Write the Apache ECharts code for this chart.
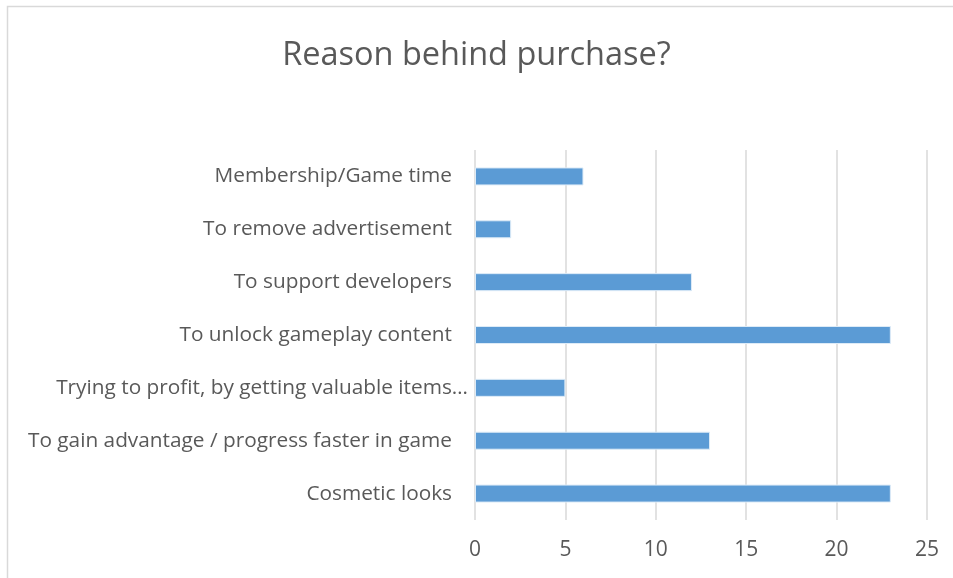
<!DOCTYPE html>
<html>
<head>
<meta charset="utf-8">
<script src="https://cdn.jsdelivr.net/npm/echarts@6/dist/echarts.min.js"></script>
<style>
  html, body { margin: 0; padding: 0; background: #fff; }
  #chart { width: 953px; height: 578px; }
</style>
</head>
<body>
<div id="chart"></div>
<script>
// Categories listed bottom-to-top (category axis on y starts at the bottom)
const categories = [
  'Cosmetic looks',
  'To gain advantage / progress faster in game',
  'Trying to profit, by getting valuable items…',
  'To unlock gameplay content',
  'To support developers',
  'To remove advertisement',
  'Membership/Game time'
];
const counts = [23, 13, 5, 23, 12, 2, 6];
const xTicks = [0, 5, 10, 15, 20, 25];

const FONT = '"Open Sans", sans-serif';
const TEXT = '#595959';
const GRID = '#D9D9D9';

const chart = echarts.init(document.getElementById('chart'), null, { renderer: 'canvas' });
chart.setOption({
  backgroundColor: '#ffffff',
  animation: false,
  title: {
    text: 'Reason behind purchase?',
    left: 'center',
    top: 34,
    textStyle: { fontFamily: FONT, fontSize: 32.5, fontWeight: 'normal', color: TEXT }
  },
  graphic: [{
    type: 'rect',
    shape: { x: 7.5, y: 6.5, width: 1000, height: 1000 },
    style: { fill: 'none', stroke: GRID, lineWidth: 1.5 },
    silent: true
  }],
  grid: { left: 475, right: 26, top: 150, bottom: 58, containLabel: false },
  xAxis: {
    type: 'value',
    min: xTicks[0],
    max: xTicks[xTicks.length - 1],
    interval: xTicks[1] - xTicks[0],
    axisLine: { show: false },
    axisTick: { show: false },
    axisLabel: { fontFamily: FONT, fontSize: 21, color: TEXT, margin: 20 },
    splitLine: { show: true, lineStyle: { color: GRID, width: 1.5 } }
  },
  yAxis: {
    type: 'category',
    data: categories,
    axisLine: { show: false },
    axisTick: { show: false },
    axisLabel: {
      margin: 7,
      formatter: function (v) {
        return v.endsWith('…') ? '{t|' + v + '}' : '{n|' + v + '}';
      },
      rich: {
        n: { fontFamily: FONT, fontSize: 20.8, color: TEXT, padding: [0, 16, 0, 0] },
        t: { fontFamily: FONT, fontSize: 20.8, color: TEXT }
      }
    }
  },
  series: [{
    type: 'bar',
    data: counts,
    barWidth: 18,
    itemStyle: { color: '#5B9BD5', borderColor: '#DDEBF7', borderWidth: 1 }
  }]
});
</script>
</body>
</html>
